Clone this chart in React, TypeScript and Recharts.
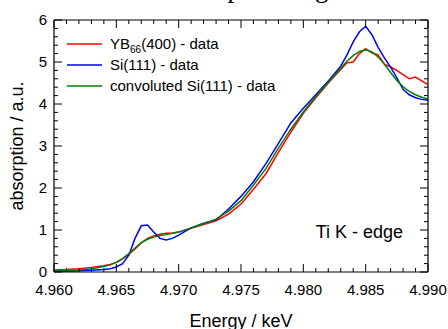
import { LineChart, Line, XAxis, YAxis, Legend, Customized } from "recharts";

// photon energy in keV
const energy = [
  4.96, 4.961, 4.962, 4.963, 4.964, 4.9645, 4.965, 4.9655, 4.966, 4.9665,
  4.967, 4.9675, 4.968, 4.9685, 4.969, 4.9695, 4.97, 4.971, 4.972, 4.973,
  4.974, 4.975, 4.976, 4.977, 4.978, 4.979, 4.98, 4.981, 4.982, 4.983,
  4.9835, 4.984, 4.9845, 4.985, 4.9855, 4.986, 4.9865, 4.987, 4.9875, 4.988,
  4.9885, 4.989, 4.9895, 4.99,
];

const yb66 = [
  0.05, 0.06, 0.08, 0.11, 0.15, 0.18, 0.23, 0.31, 0.42, 0.55,
  0.69, 0.8, 0.86, 0.9, 0.92, 0.93, 0.95, 1.04, 1.13, 1.22,
  1.38, 1.62, 1.97, 2.34, 2.85, 3.33, 3.78, 4.15, 4.5, 4.82,
  4.98, 5.0, 5.2, 5.32, 5.22, 5.17, 4.95, 4.88, 4.8, 4.7,
  4.6, 4.64, 4.55, 4.46,
];

const si111 = [
  0.02, 0.02, 0.03, 0.04, 0.06, 0.08, 0.12, 0.2, 0.4, 0.8,
  1.1, 1.12, 0.95, 0.8, 0.76, 0.8, 0.88, 1.05, 1.16, 1.24,
  1.5, 1.8, 2.15, 2.58, 3.06, 3.55, 3.9, 4.22, 4.55, 4.9,
  5.17, 5.48, 5.72, 5.85, 5.65, 5.35, 5.1, 4.88, 4.62, 4.35,
  4.22, 4.15, 4.11, 4.09,
];

const convSi = [
  0.02, 0.03, 0.05, 0.08, 0.13, 0.17, 0.23, 0.32, 0.44, 0.57,
  0.7, 0.78, 0.83, 0.87, 0.89, 0.92, 0.95, 1.05, 1.15, 1.26,
  1.45, 1.7, 2.07, 2.46, 2.95, 3.4, 3.81, 4.18, 4.52, 4.85,
  5.02, 5.15, 5.25, 5.29, 5.24, 5.12, 4.95, 4.75, 4.56, 4.41,
  4.3, 4.22, 4.16, 4.12,
];

const SERIES = [
  { key: "yb66", name: "YB66(400) - data", color: "#ff0000" },
  { key: "si", name: "Si(111) - data", color: "#0000ff" },
  { key: "conv", name: "convoluted Si(111) - data", color: "#008000" },
];

const data = energy.map((e, i) => ({ e, yb66: yb66[i], si: si111[i], conv: convSi[i] }));

// minor ticks every 0.001 keV and every 0.2
const xTicks = Array.from({ length: 31 }, (_, i) => +(4.96 + i * 0.001).toFixed(3));
const yTicks = Array.from({ length: 31 }, (_, i) => +(i * 0.2).toFixed(1));

const FONT = "'Liberation Sans', Arial, sans-serif";
const isMajorX = (v: number) => Math.abs(v * 200 - Math.round(v * 200)) < 1e-6;
const isMajorY = (v: number) => Math.abs(v - Math.round(v)) < 1e-6;

function BottomTick({ x, y, payload }: any) {
  const major = isMajorX(payload.value);
  return (
    <g>
      <line x1={x} y1={y} x2={x} y2={y - (major ? 8 : 4)} stroke="#000" />
      {major && (
        <text x={x} y={y + 23} textAnchor="middle" fontSize={15} fontFamily={FONT} fill="#000">
          {payload.value.toFixed(3)}
        </text>
      )}
    </g>
  );
}

function TopTick({ x, y, payload }: any) {
  const major = isMajorX(payload.value);
  return <line x1={x} y1={y} x2={x} y2={y + (major ? 8 : 4)} stroke="#000" />;
}

function LeftTick({ x, y, payload }: any) {
  const major = isMajorY(payload.value);
  return (
    <g>
      <line x1={x} y1={y} x2={x + (major ? 8 : 4)} y2={y} stroke="#000" />
      {major && (
        <text x={x - 7} y={y + 5} textAnchor="end" fontSize={15} fontFamily={FONT} fill="#000">
          {Math.round(payload.value)}
        </text>
      )}
    </g>
  );
}

function RightTick({ x, y, payload }: any) {
  const major = isMajorY(payload.value);
  return <line x1={x} y1={y} x2={x - (major ? 8 : 4)} y2={y} stroke="#000" />;
}

function renderName(name: string) {
  const m = name.match(/^YB(\d+)(.*)$/);
  if (!m) return name;
  return (
    <>
      YB<span style={{ fontSize: 10, position: "relative", top: 4 }}>{m[1]}</span>
      {m[2]}
    </>
  );
}

function LegendBox() {
  return (
    <div style={{ fontFamily: FONT, fontSize: 15, color: "#000" }}>
      {SERIES.map((s) => (
        <div key={s.key} style={{ display: "flex", alignItems: "center", height: 21, whiteSpace: "nowrap" }}>
          <svg width={35} height={4} style={{ marginRight: 8, display: "block" }}>
            <line x1={0} y1={2} x2={35} y2={2} stroke={s.color} strokeWidth={1.5} />
          </svg>
          <span>{renderName(s.name)}</span>
        </div>
      ))}
    </div>
  );
}

function Annotations() {
  return (
    <g fill="#000">
      <text x={251} y={-3} textAnchor="middle" fontSize={27} fontFamily="'Liberation Serif', 'Times New Roman', serif">
        Absorption edge
      </text>
      <text x={241} y={326.5} textAnchor="middle" fontSize={18} fontFamily={FONT}>
        Energy / keV
      </text>
      <text x={23} y={146} transform="rotate(-90 23 146)" textAnchor="middle" fontSize={18} fontFamily={FONT}>
        absorption / a.u.
      </text>
      <text x={403} y={238} textAnchor="end" fontSize={18} fontFamily={FONT}>
        Ti K - edge
      </text>
    </g>
  );
}

export default function App() {
  const axisLine = { stroke: "#000", strokeWidth: 1.2 };
  return (
    <div style={{ position: "absolute", left: 0, top: 0, width: 448, height: 329, background: "#fff" }}>
      <LineChart width={448} height={329} data={data} margin={{ top: 19, right: 19, bottom: 56, left: 53 }}>
        <XAxis dataKey="e" type="number" domain={[4.96, 4.99]} ticks={xTicks} interval={0}
               height={1} tickSize={0} tickMargin={0} tickLine={false} axisLine={axisLine}
               tick={<BottomTick />} allowDataOverflow />
        <XAxis xAxisId="t" orientation="top" dataKey="e" type="number" domain={[4.96, 4.99]} ticks={xTicks}
               interval={0} height={1} tickSize={0} tickMargin={0} tickLine={false} axisLine={axisLine}
               tick={<TopTick />} allowDataOverflow />
        <YAxis type="number" domain={[0, 6]} ticks={yTicks} interval={0} width={1} tickSize={0}
               tickMargin={0} tickLine={false} axisLine={axisLine} tick={<LeftTick />} allowDataOverflow />
        <YAxis yAxisId="r" orientation="right" type="number" domain={[0, 6]} ticks={yTicks} interval={0}
               width={1} tickSize={0} tickMargin={0} tickLine={false} axisLine={axisLine}
               tick={<RightTick />} allowDataOverflow />
        <Legend layout="vertical" align="center" verticalAlign="middle" content={<LegendBox />}
                wrapperStyle={{ left: 67, top: 33, width: "auto" }} />
        {SERIES.map((s) => (
          <Line key={s.key} type="linear" dataKey={s.key} name={s.name} stroke={s.color}
                strokeWidth={1.5} dot={false} activeDot={false} isAnimationActive={false} />
        ))}
        <Customized component={<Annotations />} />
      </LineChart>
    </div>
  );
}
